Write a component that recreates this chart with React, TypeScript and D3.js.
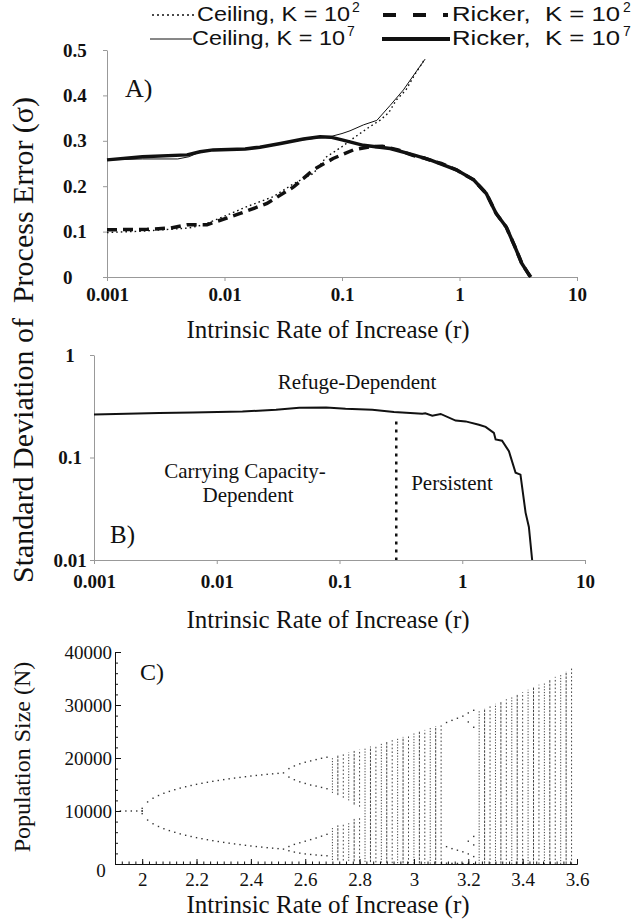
import React, { useEffect, useRef } from 'react'
import * as d3 from 'd3'

const serif = '"Liberation Serif", "Times New Roman", serif'
const sans = '"Liberation Sans", Arial, sans-serif'

// Panel A: sd of process error against r
const ceilingK2: [number, number][] = [
  [0.001, 0.098], [0.002, 0.101], [0.003, 0.104], [0.005, 0.108], [0.0066, 0.115],
  [0.0098, 0.133], [0.0155, 0.155], [0.026, 0.177], [0.039, 0.206], [0.057, 0.228],
  [0.074, 0.265], [0.1, 0.287], [0.13, 0.309], [0.17, 0.33], [0.21, 0.345],
  [0.25, 0.362], [0.29, 0.39], [0.35, 0.412], [0.43, 0.452], [0.48, 0.47], [0.5, 0.478]
]
const ceilingK7: [number, number][] = [
  [0.001, 0.258], [0.002, 0.26], [0.004, 0.26], [0.005, 0.265], [0.006, 0.274],
  [0.008, 0.28], [0.015, 0.281], [0.02, 0.285], [0.03, 0.295], [0.05, 0.303],
  [0.07, 0.308], [0.079, 0.309], [0.1, 0.316], [0.117, 0.322], [0.152, 0.335],
  [0.198, 0.345], [0.257, 0.378], [0.333, 0.412], [0.419, 0.449], [0.51, 0.48]
]
const rickerK2: [number, number][] = [
  [0.001, 0.104], [0.0022, 0.105], [0.0035, 0.108], [0.0048, 0.115], [0.0071, 0.115],
  [0.0136, 0.14], [0.023, 0.162], [0.039, 0.199], [0.057, 0.236], [0.084, 0.261],
  [0.125, 0.28], [0.173, 0.287], [0.22, 0.288], [0.3, 0.28], [0.4, 0.268],
  [0.5, 0.262], [0.6, 0.255], [0.7, 0.25], [0.94, 0.236], [1.32, 0.214],
  [1.69, 0.184], [2.05, 0.14], [2.5, 0.11], [2.96, 0.067], [3.39, 0.03], [3.84, 0.008], [4.0, 0]
]
const rickerK7: [number, number][] = [
  [0.001, 0.258], [0.002, 0.265], [0.0048, 0.269], [0.0062, 0.276], [0.008, 0.28],
  [0.015, 0.282], [0.02, 0.286], [0.03, 0.294], [0.047, 0.304], [0.065, 0.309],
  [0.08, 0.308], [0.1, 0.302], [0.152, 0.29], [0.257, 0.283], [0.405, 0.269],
  [0.562, 0.258], [0.94, 0.236], [1.32, 0.214], [1.69, 0.184], [2.05, 0.14],
  [2.5, 0.11], [2.96, 0.067], [3.39, 0.03], [3.84, 0.008], [4.05, 0]
]

// Panel B: boundary between regions (log scale)
const boundary: [number, number][] = [
  [0.001, 0.262], [0.0034, 0.271], [0.0064, 0.275], [0.0162, 0.281], [0.0304, 0.292],
  [0.047, 0.306], [0.078, 0.308], [0.112, 0.299], [0.185, 0.292], [0.278, 0.278],
  [0.473, 0.267], [0.5, 0.27], [0.57, 0.256], [0.667, 0.266], [0.883, 0.229],
  [1.066, 0.225], [1.367, 0.209], [1.55, 0.199], [1.81, 0.174], [1.87, 0.15],
  [2.11, 0.146], [2.4, 0.115], [2.72, 0.071], [2.98, 0.068], [3.28, 0.029],
  [3.49, 0.021], [3.71, 0.01]
]
const persistentR = 0.29
const persistentTop = 0.225

const rTicksLog = [0.001, 0.01, 0.1, 1, 10]
const sdTicksA = [0, 0.1, 0.2, 0.3, 0.4, 0.5]
const sdTicksB = [0.01, 0.1, 1]

// Panel C: bifurcation diagram
const fixedR = [1.92, 1.94, 1.96, 1.98, 2.0, 2.0]
const fixedN = [10000, 10000, 10000, 10000, 9500, 10500]
const cycle2R = [2.0, 2.02, 2.04, 2.06, 2.08, 2.1, 2.12, 2.14, 2.16, 2.18, 2.2, 2.22, 2.24, 2.26,
  2.28, 2.3, 2.32, 2.34, 2.36, 2.38, 2.4, 2.42, 2.44, 2.46, 2.48, 2.5, 2.52]
const cycle2Upper = [10000, 11710, 12410, 12920, 13350, 13700, 14020, 14320, 14580, 14810, 15030,
  15230, 15420, 15600, 15760, 15920, 16070, 16210, 16340, 16470, 16600, 16710, 16810, 16920, 17010, 17100, 17190]
const cycle2Lower = [10000, 8290, 7590, 7080, 6650, 6300, 5980, 5680, 5420, 5190, 4970, 4770, 4580,
  4400, 4240, 4080, 3930, 3790, 3660, 3530, 3400, 3290, 3190, 3080, 2990, 2900, 2810]
const cycle4R = [2.54, 2.56, 2.58, 2.6, 2.62, 2.64, 2.66, 2.68]
const cycle4A = [18000, 18500, 18900, 19200, 19450, 19700, 19950, 20150]
const cycle4B = [16400, 15900, 15500, 15200, 14900, 14700, 14450, 14200]
const cycle4C = [3300, 3700, 4000, 4300, 4600, 4900, 5250, 5600]
const cycle4D = [2500, 2250, 2050, 1900, 1800, 1700, 1620, 1550]
const chaosR = [2.7, 2.72, 2.74, 2.76, 2.78, 2.8, 2.82, 2.84, 2.86, 2.88, 2.9, 2.92, 2.94, 2.96, 2.98,
  3.0, 3.02, 3.04, 3.06, 3.08, 3.1, 3.24, 3.26, 3.28, 3.3, 3.32, 3.34, 3.36, 3.38, 3.4, 3.42, 3.44,
  3.46, 3.48, 3.5, 3.52, 3.54, 3.56, 3.58]
const chaosTop = [20270, 20530, 20790, 21060, 21330, 21610, 21890, 22170, 22460, 22760, 23060, 23360,
  23670, 23980, 24300, 24630, 24960, 25300, 25640, 25990, 26340, 28990, 29400, 29810, 30220, 30650,
  31090, 31520, 31970, 32420, 32880, 33350, 33830, 34310, 34810, 35310, 35820, 36340, 36870]
const chaosBottom = [750, 700, 650, 600, 500, 450, 400, 350, 300, 250, 200, 150, 150, 120, 100, 100,
  80, 80, 60, 60, 50, 60, 50, 50, 40, 40, 30, 30, 20, 20, 20, 10, 10, 10, 10, 10, 10, 10, 10]
const bandGapR = [2.7, 2.72, 2.74, 2.76, 2.78, 2.8]
const bandGapLow = [7000, 7300, 7600, 8000, 8500, 9000]
const bandGapHigh = [13400, 13000, 12500, 12000, 11200, 10800]
const windowDots: [number, number][] = [
  [3.12, 26700], [3.12, 3270], [3.12, 150], [3.14, 27100], [3.14, 2900], [3.14, 120],
  [3.16, 27500], [3.16, 2600], [3.16, 100], [3.18, 27900], [3.18, 2300], [3.18, 90],
  [3.2, 28500], [3.2, 26800], [3.2, 4300], [3.2, 1900], [3.2, 80],
  [3.22, 29000], [3.22, 25800], [3.22, 5200], [3.22, 3600], [3.22, 1400], [3.22, 60]
]
const popTicks = [0, 10000, 20000, 30000, 40000]
const popMinor = d3.range(0, 40001, 2000)
const rTicksC = [2, 2.2, 2.4, 2.6, 2.8, 3, 3.2, 3.4, 3.6]
const rMinorC = d3.range(1.9, 3.601, 0.025)

const xA = d3.scaleLog().domain([0.001, 10]).range([107, 577])
const yA = d3.scaleLinear().domain([0, 0.5]).range([277, 50])
const xB = d3.scaleLog().domain([0.001, 10]).range([94, 585])
const yB = d3.scaleLog().domain([0.01, 1]).range([560, 355])
const xC = d3.scaleLinear().domain([1.9, 3.6]).range([115, 577])
const yC = d3.scaleLinear().domain([0, 40000]).range([864, 652])

const styleAxis = (sel, color, size, weight) => {
  sel.attr('font-family', null).attr('font-size', null)
  sel.select('.domain').attr('stroke', color)
  sel.selectAll('.tick line').attr('stroke', color)
  sel.selectAll('text')
    .style('font-family', serif)
    .style('font-size', size + 'px')
    .style('font-weight', weight)
    .attr('fill', '#111')
}

const fmtLog = d => String(d)

export default function App() {
  const aY = useRef(null)
  const aX = useRef(null)
  const bY = useRef(null)
  const bX = useRef(null)
  const cY = useRef(null)
  const cYm = useRef(null)
  const cX = useRef(null)
  const cXm = useRef(null)

  useEffect(() => {
    // panel A: labels on the left axis start at a common left edge
    d3.select(aY.current).call(d3.axisLeft(yA).tickValues(sdTicksA)
      .tickFormat(d => d === 0 ? '0' : d3.format('.1f')(d)).tickSize(4).tickSizeOuter(0).tickPadding(5))
      .call(s => styleAxis(s, '#999', 19, 'bold'))
      .selectAll('text').attr('text-anchor', 'start').attr('x', -44)
    d3.select(aX.current).call(d3.axisBottom(xA).tickValues(rTicksLog)
      .tickFormat(fmtLog).tickSize(4).tickSizeOuter(0).tickPadding(7))
      .call(s => styleAxis(s, '#999', 19, 'bold'))
    d3.select(bY.current).call(d3.axisLeft(yB).tickValues(sdTicksB)
      .tickFormat(fmtLog).tickSize(4).tickSizeOuter(0).tickPadding(5))
      .call(s => styleAxis(s, '#999', 19, 'bold'))
      .selectAll('text').attr('text-anchor', 'middle').attr('x', -24)
    d3.select(bX.current).call(d3.axisBottom(xB).tickValues(rTicksLog)
      .tickFormat(fmtLog).tickSize(4).tickSizeOuter(0).tickPadding(11))
      .call(s => styleAxis(s, '#999', 19, 'bold'))

    d3.select(cY.current).call(d3.axisLeft(yC).tickValues(popTicks)
      .tickFormat(d => d === 0 ? '' : String(d)).tickSize(-6).tickSizeOuter(0).tickPadding(3))
      .call(s => styleAxis(s, '#111', 19, 'normal'))
    d3.select(cYm.current).call(d3.axisLeft(yC).tickValues(popMinor)
      .tickFormat(() => '').tickSize(-3).tickSizeOuter(0))
      .call(s => styleAxis(s, '#111', 19, 'normal'))
    d3.select(cX.current).call(d3.axisBottom(xC).tickValues(rTicksC)
      .tickFormat(d => String(d)).tickSize(-5).tickSizeOuter(0).tickPadding(9))
      .call(s => styleAxis(s, '#111', 19, 'normal'))
    d3.select(cXm.current).call(d3.axisBottom(xC).tickValues(rMinorC)
      .tickFormat(() => '').tickSize(-2.5).tickSizeOuter(0))
      .call(s => styleAxis(s, '#111', 19, 'normal'))
  }, [])

  const lineA = d3.line<[number, number]>().x(d => xA(d[0])).y(d => yA(d[1]))
  const lineB = d3.line<[number, number]>().x(d => xB(d[0])).y(d => yB(d[1]))

  const dot = (r, n, key) => (
    <rect key={key} x={xC(r) - 0.7} y={yC(n) - 0.7} width={1.4} height={1.4} fill="#333" />
  )

  const columns = chaosR.map((r, i) => {
    const g = bandGapR.indexOf(r)
    const segs = g >= 0
      ? [[chaosBottom[i], bandGapLow[g]], [bandGapHigh[g], chaosTop[i]]]
      : [[chaosBottom[i], chaosTop[i]]]
    return segs.map((s, j) => (
      <line key={`c${i}-${j}`} x1={xC(r)} x2={xC(r)} y1={yC(s[0])} y2={yC(s[1])}
        stroke="#444" strokeWidth={1} strokeDasharray={i % 3 === 0 ? '1.2 1.6' : i % 3 === 1 ? '2.5 1.2' : '1.6 2.2'} />
    ))
  })

  const txt = { fontFamily: serif, fill: '#111' }
  const leg = { fontFamily: sans, fontSize: 21, fill: '#111' }
  const sup = { fontFamily: sans, fontSize: 14, fill: '#111' }

  return (
    <svg width={638} height={923} style={{ position: 'absolute', left: 0, top: 0, background: '#fff' }}>
      {/* legend */}
      <line x1={152} x2={194} y1={15} y2={15} stroke="#111" strokeWidth={1.3} strokeDasharray="2 3" />
      <text x={197} y={21} {...leg} textLength={153} lengthAdjust="spacingAndGlyphs">Ceiling, K = 10</text>
      <text x={352} y={12} {...sup}>2</text>
      <line x1={383} x2={448} y1={15} y2={15} stroke="#111" strokeWidth={4} strokeDasharray="13 17" />
      <text x={452} y={21} {...leg} textLength={168} lengthAdjust="spacingAndGlyphs"
        style={{ whiteSpace: 'pre' }}>Ricker,  K = 10</text>
      <text x={623} y={12} {...sup}>2</text>
      <line x1={150} x2={192} y1={39} y2={39} stroke="#111" strokeWidth={1} />
      <text x={192} y={45} {...leg} textLength={153} lengthAdjust="spacingAndGlyphs">Ceiling, K = 10</text>
      <text x={347} y={36} {...sup}>7</text>
      <line x1={382} x2={450} y1={39} y2={39} stroke="#111" strokeWidth={4} />
      <text x={452} y={45} {...leg} textLength={168} lengthAdjust="spacingAndGlyphs"
        style={{ whiteSpace: 'pre' }}>Ricker,  K = 10</text>
      <text x={623} y={36} {...sup}>7</text>

      {/* panel A */}
      <g ref={aY} transform={`translate(${xA.range()[0]},0)`} />
      <g ref={aX} transform={`translate(0,${yA.range()[0]})`} />
      <path d={lineA(ceilingK2)} fill="none" stroke="#111" strokeWidth={1.4} strokeDasharray="1.6 3" />
      <path d={lineA(ceilingK7)} fill="none" stroke="#111" strokeWidth={1} />
      <path d={lineA(rickerK2)} fill="none" stroke="#111" strokeWidth={3.5} strokeDasharray="10 6" />
      <path d={lineA(rickerK7)} fill="none" stroke="#111" strokeWidth={3.5} />
      <text x={125} y={97} {...txt} fontSize={26}>A)</text>
      <text x={328} y={338} {...txt} fontSize={25} textAnchor="middle">Intrinsic Rate of Increase (r)</text>

      {/* shared y title for A and B */}
      <text transform="translate(33,340) rotate(-90)" {...txt} fontSize={30} textAnchor="middle"
        style={{ whiteSpace: 'pre' }}>Standard Deviation of  Process Error (σ)</text>

      {/* panel B */}
      <g ref={bY} transform={`translate(${xB.range()[0]},0)`} />
      <g ref={bX} transform={`translate(0,${yB.range()[0]})`} />
      <path d={lineB(boundary)} fill="none" stroke="#111" strokeWidth={2} />
      <line x1={xB(persistentR)} x2={xB(persistentR)} y1={yB(persistentTop)} y2={yB(0.01)}
        stroke="#111" strokeWidth={2.5} strokeDasharray="3 5" />
      <text x={357} y={389} {...txt} fontSize={21} textAnchor="middle">Refuge-Dependent</text>
      <text x={245} y={478} {...txt} fontSize={21} textAnchor="middle">Carrying Capacity-</text>
      <text x={248} y={502} {...txt} fontSize={21} textAnchor="middle">Dependent</text>
      <text x={452} y={490} {...txt} fontSize={21} textAnchor="middle">Persistent</text>
      <text x={110} y={543} {...txt} fontSize={25}>B)</text>
      <text x={328} y={628} {...txt} fontSize={25} textAnchor="middle">Intrinsic Rate of Increase (r)</text>

      {/* panel C */}
      <g>
        {fixedR.map((r, i) => dot(r, fixedN[i], `f${i}`))}
        {cycle2R.map((r, i) => dot(r, cycle2Upper[i], `u${i}`))}
        {cycle2R.map((r, i) => dot(r, cycle2Lower[i], `l${i}`))}
        {[cycle4A, cycle4B, cycle4C, cycle4D].map((b, k) => cycle4R.map((r, i) => dot(r, b[i], `q${k}-${i}`)))}
        {columns}
        {windowDots.map((d, i) => dot(d[0], d[1], `w${i}`))}
      </g>
      <g ref={cYm} transform={`translate(${xC.range()[0]},0)`} />
      <g ref={cY} transform={`translate(${xC.range()[0]},0)`} />
      <g ref={cXm} transform={`translate(0,${yC.range()[0]})`} />
      <g ref={cX} transform={`translate(0,${yC.range()[0]})`} />
      <text x={101} y={877} {...txt} fontSize={19} textAnchor="middle">0</text>
      <text x={140} y={680} {...txt} fontSize={24}>C)</text>
      <text transform="translate(30,757) rotate(-90)" {...txt} fontSize={24} textAnchor="middle">Population Size (N)</text>
      <text x={328} y={913} {...txt} fontSize={25} textAnchor="middle">Intrinsic Rate of Increase (r)</text>
    </svg>
  )
}
